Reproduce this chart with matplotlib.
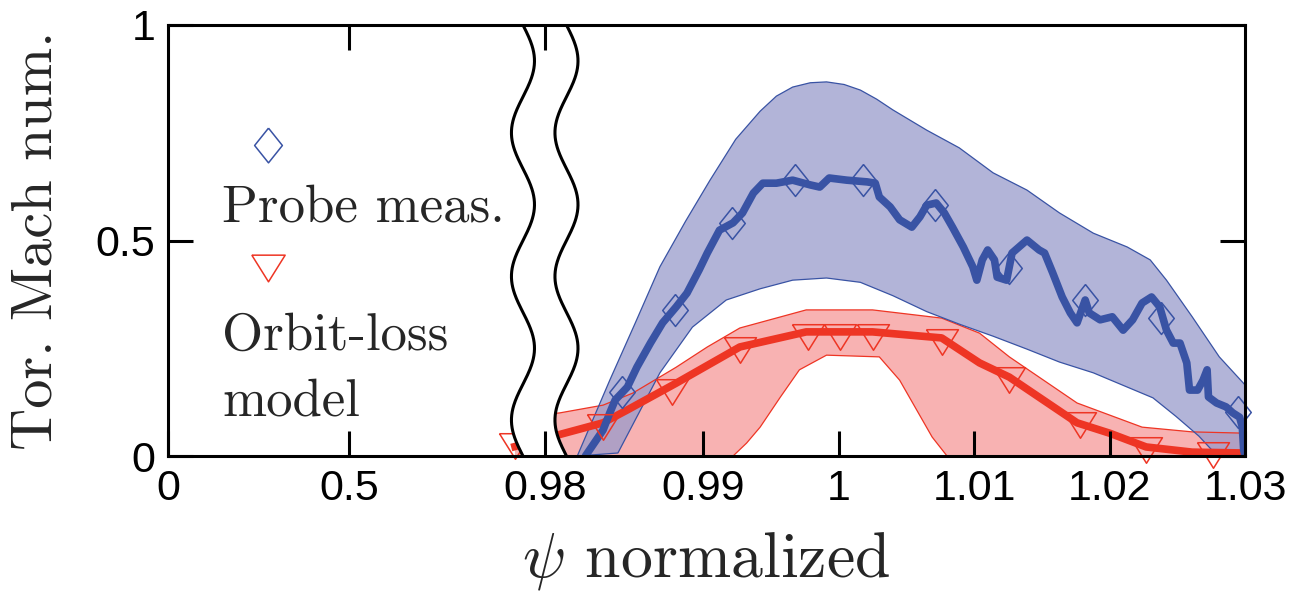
import numpy as np
import matplotlib
matplotlib.use('Agg')
import matplotlib.pyplot as plt

plt.rcParams['mathtext.fontset'] = 'cm'

# --- data (psi normalized, toroidal Mach number) ---
probe_psi = [0.9813, 0.9826, 0.9831, 0.9835, 0.9844, 0.9851, 0.9861, 0.9870, 0.9880, 0.9888,
             0.9897, 0.9903, 0.9912, 0.9922, 0.9929, 0.9937, 0.9944, 0.9954, 0.9966, 0.9979,
             0.9986, 0.9993, 1.0006, 1.0021, 1.0027, 1.0030, 1.0038, 1.0045, 1.0054, 1.0060,
             1.0065, 1.0072, 1.0078, 1.0084, 1.0092, 1.0099, 1.0102, 1.0106, 1.0110, 1.0115,
             1.0117, 1.0124, 1.0128, 1.0139, 1.0148, 1.0152, 1.0158, 1.0165, 1.0171, 1.0176,
             1.0182, 1.0185, 1.0193, 1.0202, 1.0210, 1.0217, 1.0224, 1.0231, 1.0237, 1.0242,
             1.0247, 1.0252, 1.0257, 1.0259, 1.0265, 1.0269, 1.0272, 1.0273, 1.0279, 1.0286,
             1.0291, 1.0296, 1.0298, 1.0299, 1.0300]
probe_mach = [0.000, 0.060, 0.100, 0.130, 0.160, 0.206, 0.262, 0.309, 0.346, 0.378,
              0.432, 0.471, 0.524, 0.541, 0.564, 0.610, 0.633, 0.633, 0.640, 0.629,
              0.624, 0.645, 0.640, 0.636, 0.633, 0.601, 0.578, 0.548, 0.531, 0.555,
              0.582, 0.587, 0.564, 0.531, 0.485, 0.439, 0.408, 0.455, 0.478, 0.455,
              0.415, 0.408, 0.471, 0.501, 0.478, 0.471, 0.425, 0.369, 0.332, 0.309,
              0.362, 0.332, 0.316, 0.323, 0.292, 0.316, 0.355, 0.369, 0.346, 0.292,
              0.262, 0.262, 0.216, 0.153, 0.153, 0.176, 0.200, 0.137, 0.123, 0.114,
              0.100, 0.090, 0.067, 0.014, 0.000]

probe_mark_psi = [0.9840, 0.9879, 0.9921, 0.9968, 1.0018, 1.0071, 1.0126, 1.0182, 1.0238, 1.0295]
probe_mark_mach = [0.148, 0.339, 0.541, 0.640, 0.640, 0.582, 0.436, 0.362, 0.320, 0.102]

probe_hi_psi = [0.9807, 0.9831, 0.9850, 0.9868, 0.9887, 0.9905, 0.9924, 0.9942, 0.9954, 0.9966,
                0.9979, 0.9991, 1.0004, 1.0016, 1.0028, 1.0040, 1.0065, 1.0089, 1.0114, 1.0139,
                1.0163, 1.0188, 1.0213, 1.0230, 1.0242, 1.0261, 1.0281, 1.0300]
probe_hi = [0.000, 0.176, 0.310, 0.439, 0.545, 0.640, 0.735, 0.800, 0.835, 0.856,
            0.866, 0.868, 0.862, 0.849, 0.828, 0.803, 0.756, 0.715, 0.657, 0.617,
            0.564, 0.517, 0.485, 0.455, 0.408, 0.323, 0.230, 0.165]
probe_lo_psi = [0.9807, 0.9837, 0.9868, 0.9892, 0.9917, 0.9942, 0.9966, 0.9991, 1.0016, 1.0040,
                1.0065, 1.0089, 1.0114, 1.0139, 1.0163, 1.0188, 1.0213, 1.0232, 1.0249, 1.0266,
                1.0279, 1.0300]
probe_lo = [0.000, 0.007, 0.193, 0.299, 0.362, 0.388, 0.408, 0.413, 0.403, 0.372,
            0.335, 0.306, 0.278, 0.248, 0.218, 0.193, 0.160, 0.135, 0.092, 0.046,
            0.002, 0.000]

model_psi = [0.9761, 0.9826, 0.9844, 0.9880, 0.9927, 0.9976, 1.0001, 1.0025, 1.0076, 1.0104,
             1.0126, 1.0176, 1.0200, 1.0227, 1.0261, 1.0300]
model_mach = [0.022, 0.077, 0.107, 0.169, 0.253, 0.288, 0.288, 0.288, 0.274, 0.216,
              0.183, 0.077, 0.053, 0.021, 0.009, 0.007]

model_mark_psi = [0.9761, 0.9826, 0.9877, 0.9927, 0.9977, 1.0001, 1.0025, 1.0076, 1.0126, 1.0178,
                  1.0227, 1.0276]
model_mark_mach = [0.023, 0.067, 0.148, 0.246, 0.276, 0.276, 0.276, 0.265, 0.176, 0.072,
                   0.014, 0.002]

model_hi_psi = [0.9761, 0.9794, 0.9826, 0.9848, 0.9880, 0.9903, 0.9927, 0.9976, 1.0025, 1.0076,
                1.0104, 1.0126, 1.0176, 1.0224, 1.0261, 1.0300]
model_hi = [0.090, 0.100, 0.118, 0.146, 0.206, 0.253, 0.297, 0.339, 0.339, 0.320,
            0.285, 0.230, 0.123, 0.067, 0.056, 0.053]
model_lo_psi = [0.9761, 0.9922, 0.9932, 0.9942, 0.9957, 0.9971, 0.9991, 1.0030, 1.0045, 1.0069,
                1.0080, 1.0300]
model_lo = [0.000, 0.000, 0.030, 0.067, 0.137, 0.200, 0.234, 0.230, 0.176, 0.044,
            0.000, 0.000]

x_ticks = [0, 0.5, 0.9783, 0.99, 1.0, 1.01, 1.02, 1.03]
x_ticklabels = ['0', '0.5', '0.98', '0.99', '1', '1.01', '1.02', '1.03']
y_ticks = [0, 0.5, 1]
y_ticklabels = ['0', '0.5', '1']

# broken x axis: 0..0.5 squeezed on the left, 0.98..1.03 linear
BREAK_PSI = [-1.0, 0.0, 0.5, 0.97, 2.0]
BREAK_U = [0.92376, 0.95048, 0.96384, 0.97, 2.0]


def fwd(x):
    return np.interp(x, BREAK_PSI, BREAK_U)


def inv(u):
    return np.interp(u, BREAK_U, BREAK_PSI)


BLUE = '#3953a4'
RED = '#ee3524'
TXT = '#262626'
tick_font = ['Liberation Sans', 'DejaVu Sans']

diamond = [(0, 1), (0.8, 0), (0, -1), (-0.8, 0), (0, 1)]
tri_down = [(-1, 0.8), (1, 0.8), (0, -0.8), (-1, 0.8)]

fig = plt.figure(figsize=(12.93, 5.91), dpi=100)
ax = fig.add_axes([0.1299, 0.2284, 0.833, 0.7293])
ax.set_xscale('function', functions=(fwd, inv))

# bands
ax.fill(np.concatenate([model_hi_psi, model_lo_psi[::-1]]),
        np.concatenate([model_hi, model_lo[::-1]]),
        facecolor='#f8b2b2', edgecolor='none', zorder=1)
ax.fill(np.concatenate([probe_hi_psi, probe_lo_psi[::-1]]),
        np.concatenate([probe_hi, probe_lo[::-1]]),
        facecolor='#989bcb', alpha=0.75, edgecolor='none', zorder=1.1)
ax.plot(model_hi_psi, model_hi, color=RED, lw=0.9, zorder=1.5)
ax.plot(model_lo_psi, model_lo, color=RED, lw=0.9, zorder=1.5)
ax.plot(probe_hi_psi, probe_hi, color=BLUE, lw=0.9, zorder=1.5)
ax.plot(probe_lo_psi, probe_lo, color=BLUE, lw=0.9, zorder=1.5)

# thick curves
ax.plot(model_psi, model_mach, color=RED, lw=5.5, solid_joinstyle='round', zorder=1.8)
ax.plot(probe_psi, probe_mach, color=BLUE, lw=5.5, solid_joinstyle='round',
        solid_capstyle='round', zorder=1.9)

# markers
ax.plot(model_mark_psi, model_mark_mach, ls='none', marker=tri_down, ms=23,
        mfc='none', mec=RED, mew=1.1, clip_on=False, zorder=2.0)
ax.plot(probe_mark_psi, probe_mark_mach, ls='none', marker=diamond, ms=23,
        mfc='none', mec=BLUE, mew=1.1, clip_on=False, zorder=2.0)

# axis break (wavy lines)
yy = np.linspace(0, 1, 400)
wave = 0.0107 * np.sin(2 * np.pi * 3 * (1 - yy))
w1 = 0.3296 + wave
w2 = 0.3700 + wave
ax.fill_betweenx(yy, w1, w2, transform=ax.transAxes, color='white', lw=0, zorder=2.3)
ax.plot(w1, yy, transform=ax.transAxes, color='k', lw=2.2, zorder=2.4)
ax.plot(w2, yy, transform=ax.transAxes, color='k', lw=2.2, zorder=2.4)

# legend drawn inside the axes
ax.plot([0.0929], [0.7216], transform=ax.transAxes, ls='none', marker=diamond, ms=25,
        mfc='none', mec=BLUE, mew=1.1)
ax.text(0.0501, 0.543, 'Probe meas.', transform=ax.transAxes, va='baseline', ha='left',
        fontfamily='cmr10', fontsize=38, color=TXT)
ax.plot([0.0929], [0.436], transform=ax.transAxes, ls='none', marker=tri_down, ms=24,
        mfc='none', mec=RED, mew=1.1)
ax.text(0.0501, 0.246, 'Orbit-loss', transform=ax.transAxes, va='baseline', ha='left',
        fontfamily='cmr10', fontsize=38, color=TXT)
ax.text(0.0501, 0.095, 'model', transform=ax.transAxes, va='baseline', ha='left',
        fontfamily='cmr10', fontsize=38, color=TXT)

ax.set_xlim(0, 1.03)
ax.set_ylim(0, 1)
ax.set_xticks(x_ticks)
ax.set_xticklabels(x_ticklabels, fontfamily=tick_font, fontsize=31)
ax.set_yticks(y_ticks)
ax.set_yticklabels(y_ticklabels, fontfamily=tick_font, fontsize=31)
ax.tick_params(axis='both', direction='in', length=18, width=2.2, color='k')
ax.tick_params(axis='x', pad=9)
ax.tick_params(axis='y', pad=9, right=True)
ax.set_axisbelow(False)
for sp in ax.spines.values():
    sp.set_linewidth(2.2)

ax.set_ylabel('Tor. Mach num.', fontfamily='cmr10', fontsize=42, color=TXT)
ax.yaxis.set_label_coords(-0.098, 0.5)
ax.set_xlabel(r'$\psi$ normalized', fontfamily='cmr10', fontsize=46, color=TXT)
ax.xaxis.set_label_coords(0.5, -0.172)

# top ticks only on the left part
ax_top = ax.twiny()
ax_top.set_xscale('function', functions=(fwd, inv))
ax_top.set_xlim(0, 1.03)
ax_top.set_xticks([0.5, 0.9783])
ax_top.tick_params(axis='x', direction='in', length=18, width=2.2, labeltop=False)
for sp in ax_top.spines.values():
    sp.set_visible(False)

fig.savefig('out.png', dpi=100)
